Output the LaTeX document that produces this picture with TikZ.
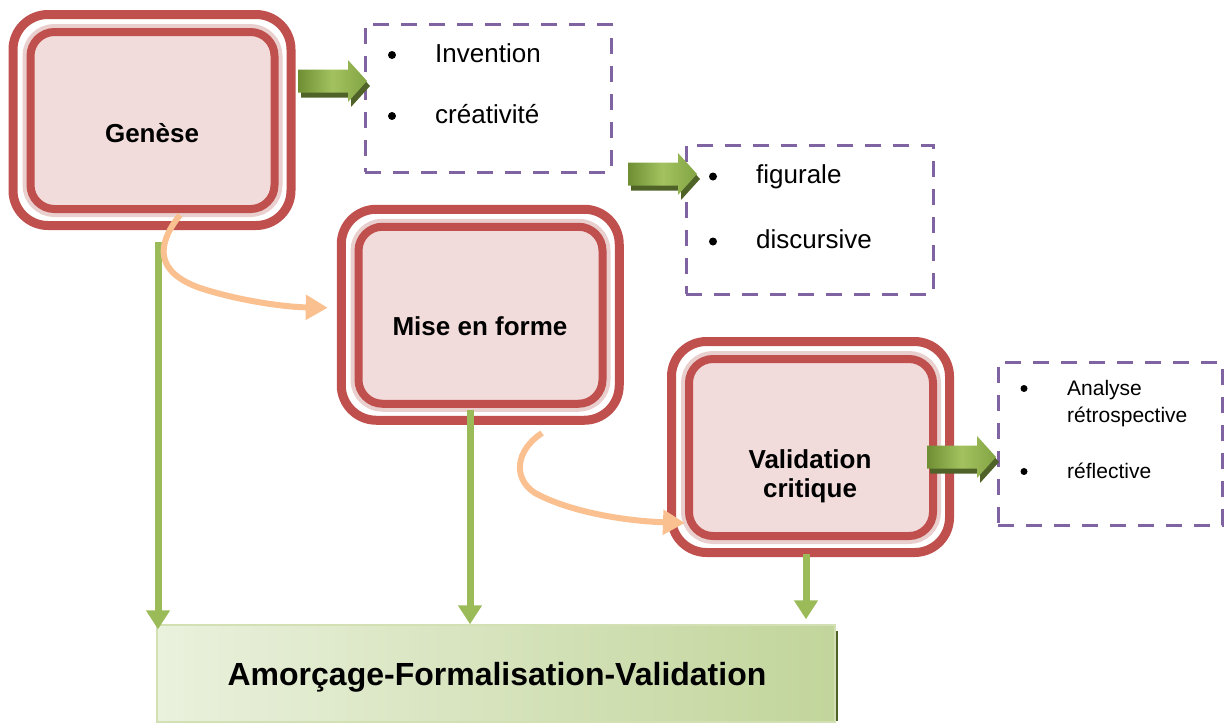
\documentclass[tikz,border=0pt]{standalone}
\usepackage{fontspec}
\setmainfont{Liberation Sans}
\usetikzlibrary{arrows.meta,calc}

\definecolor{framered}{HTML}{C0504D}
\definecolor{boxpink}{HTML}{F2DCDB}
\definecolor{palepink}{HTML}{E9D0CF}
\definecolor{listpurple}{HTML}{8064A2}
\definecolor{linkgreen}{HTML}{9BBB59}
\definecolor{darkolive}{HTML}{4F6228}
\definecolor{flowpeach}{HTML}{FAC090}
\definecolor{olivedark}{HTML}{6F8E33}
\definecolor{olivemid}{HTML}{83A444}
\definecolor{olivelight}{HTML}{A3C25F}
\definecolor{olivepale}{HTML}{EAF1DD}
\definecolor{olivesoft}{HTML}{C2D59B}

\tikzset{
  frameouter/.style={draw=framered, line width=9pt, fill=white, rounded corners=35pt,
    minimum width=278pt, minimum height=211pt, inner sep=0pt},
  frameinner/.style={draw=framered, line width=8pt, fill=boxpink, rounded corners=24pt,
    minimum width=244pt, minimum height=177pt, inner sep=0pt,
    preaction={draw=palepink, line width=16pt}},
  stagetext/.style={font=\bfseries\fontsize{26}{30}\selectfont, align=center, inner sep=0pt},
  listbox/.style={draw=listpurple, line width=3pt, dash pattern=on 16pt off 12pt, inner sep=0pt},
  itemtext/.style={font=\fontsize{26}{30}\selectfont, inner sep=0pt, anchor=base west},
  itemdot/.style={circle, fill=black, inner sep=0pt, minimum size=8pt},
  smalltext/.style={font=\fontsize{21}{25}\selectfont, inner sep=0pt, anchor=base west},
  smalldot/.style={circle, fill=black, inner sep=0pt, minimum size=7pt},
  glink/.style={draw=linkgreen, line width=7pt, -{Triangle[length=19pt,width=23pt]}},
  flow/.style={draw=flowpeach, line width=6pt, -{Triangle[length=22pt,width=24pt]}},
  blockarrow/.pic={
    % extruded dark side
    \fill[darkolive] (3,-6.5) -- (53,-6.5) -- (53,-16) -- (72,5) -- (53,26) -- (53,16.5) -- (3,16.5) -- cycle;
    % lit face
    \shade[left color=olivedark, right color=olivemid, middle color=olivelight]
      (0,-11.5) -- (50,-11.5) -- (50,-21) -- (69,0) -- (50,21) -- (50,11.5) -- (0,11.5) -- cycle;
  },
}

\begin{document}
\begin{tikzpicture}[x=1pt, y=-1pt]
\useasboundingbox (0,0) rectangle (1227,724);

% ---- stage frames ----
\node[frameouter] (gO) at (152,120) {};
\node[frameinner] (gI) at (152.5,120.5) {};
\node[stagetext, anchor=base] (gT) at (152,142) {Genèse};

\node[frameouter] (mO) at (480.25,314.75) {};
\node[frameinner] (mI) at (480.5,315.25) {};
\node[stagetext, anchor=base] (mT) at (480,335) {Mise en forme};

\node[frameouter] (vO) at (810.5,447) {};
\node[frameinner] (vI) at (811,447.5) {};
\node[stagetext, font=\bfseries\fontsize{26}{29}\selectfont] (vT) at (810,476) {Validation\\critique};

% ---- dashed lists ----
\node[listbox, minimum width=246pt, minimum height=148pt] (l1) at (488,98) {};
\node[itemdot] (l1a) at (392,55) {};
\node[itemtext] (l1b) at (435,62) {Invention};
\node[itemdot] (l1c) at (392,116) {};
\node[itemtext] (l1d) at (435,123) {créativité};

\node[listbox, minimum width=247pt, minimum height=149pt] (l2) at (809.5,219.5) {};
\node[itemdot] (l2a) at (713,176.5) {};
\node[itemtext] (l2b) at (756,183) {figurale};
\node[itemdot] (l2c) at (713,241.5) {};
\node[itemtext] (l2d) at (756,248) {discursive};

\node[listbox, minimum width=224pt, minimum height=163pt] (l3) at (1110,443.5) {};
\node[smalldot] (l3a) at (1024,388.5) {};
\node[smalltext] (l3b) at (1067,395) {Analyse};
\node[smalltext] (l3c) at (1067,422) {rétrospective};
\node[smalldot] (l3d) at (1024,471.5) {};
\node[smalltext] (l3e) at (1067,478) {réflective};

% ---- block arrows towards the lists ----
\pic at (298,81) {blockarrow};
\pic at (628,174) {blockarrow};
\pic at (927,457) {blockarrow};

% ---- synthesis bar ----
\fill[darkolive] (160,631) rectangle (838,721);
\node[draw=linkgreen!45, line width=1.5pt, left color=olivepale, right color=olivesoft,
      minimum width=678pt, minimum height=97pt, inner sep=0pt] (amf) at (496,673.5) {};
\node[font=\bfseries\fontsize{32}{36}\selectfont, inner sep=0pt, anchor=base] (amfT) at (497,685)
  {Amorçage-Formalisation-Validation};

% ---- green links down to the bar ----
\coordinate (g1) at (158,242);
\coordinate (m1) at (470,410);
\coordinate (v1) at (806,554);
\draw[glink] (g1) -- ($(g1 |- amf.north)+(0,5)$);
\draw[glink] (m1) -- (m1 |- amf.north);
\draw[glink] (v1) -- ($(v1 |- amf.north)+(0,-5)$);

% ---- curved transitions between stages ----
\coordinate (oa) at (180,215);
\coordinate (ob) at (542,433);
\draw[flow] (oa) .. controls (156,245) and (155,272) .. (200,288)
  .. controls (240,301) and (285,307) .. ([shift={(-9,-7)}]mO.west);
\draw[flow] (ob) .. controls (516,450) and (512,478) .. (535,493)
  .. controls (570,512) and (625,521) .. (685,523);
\end{tikzpicture}
\end{document}
